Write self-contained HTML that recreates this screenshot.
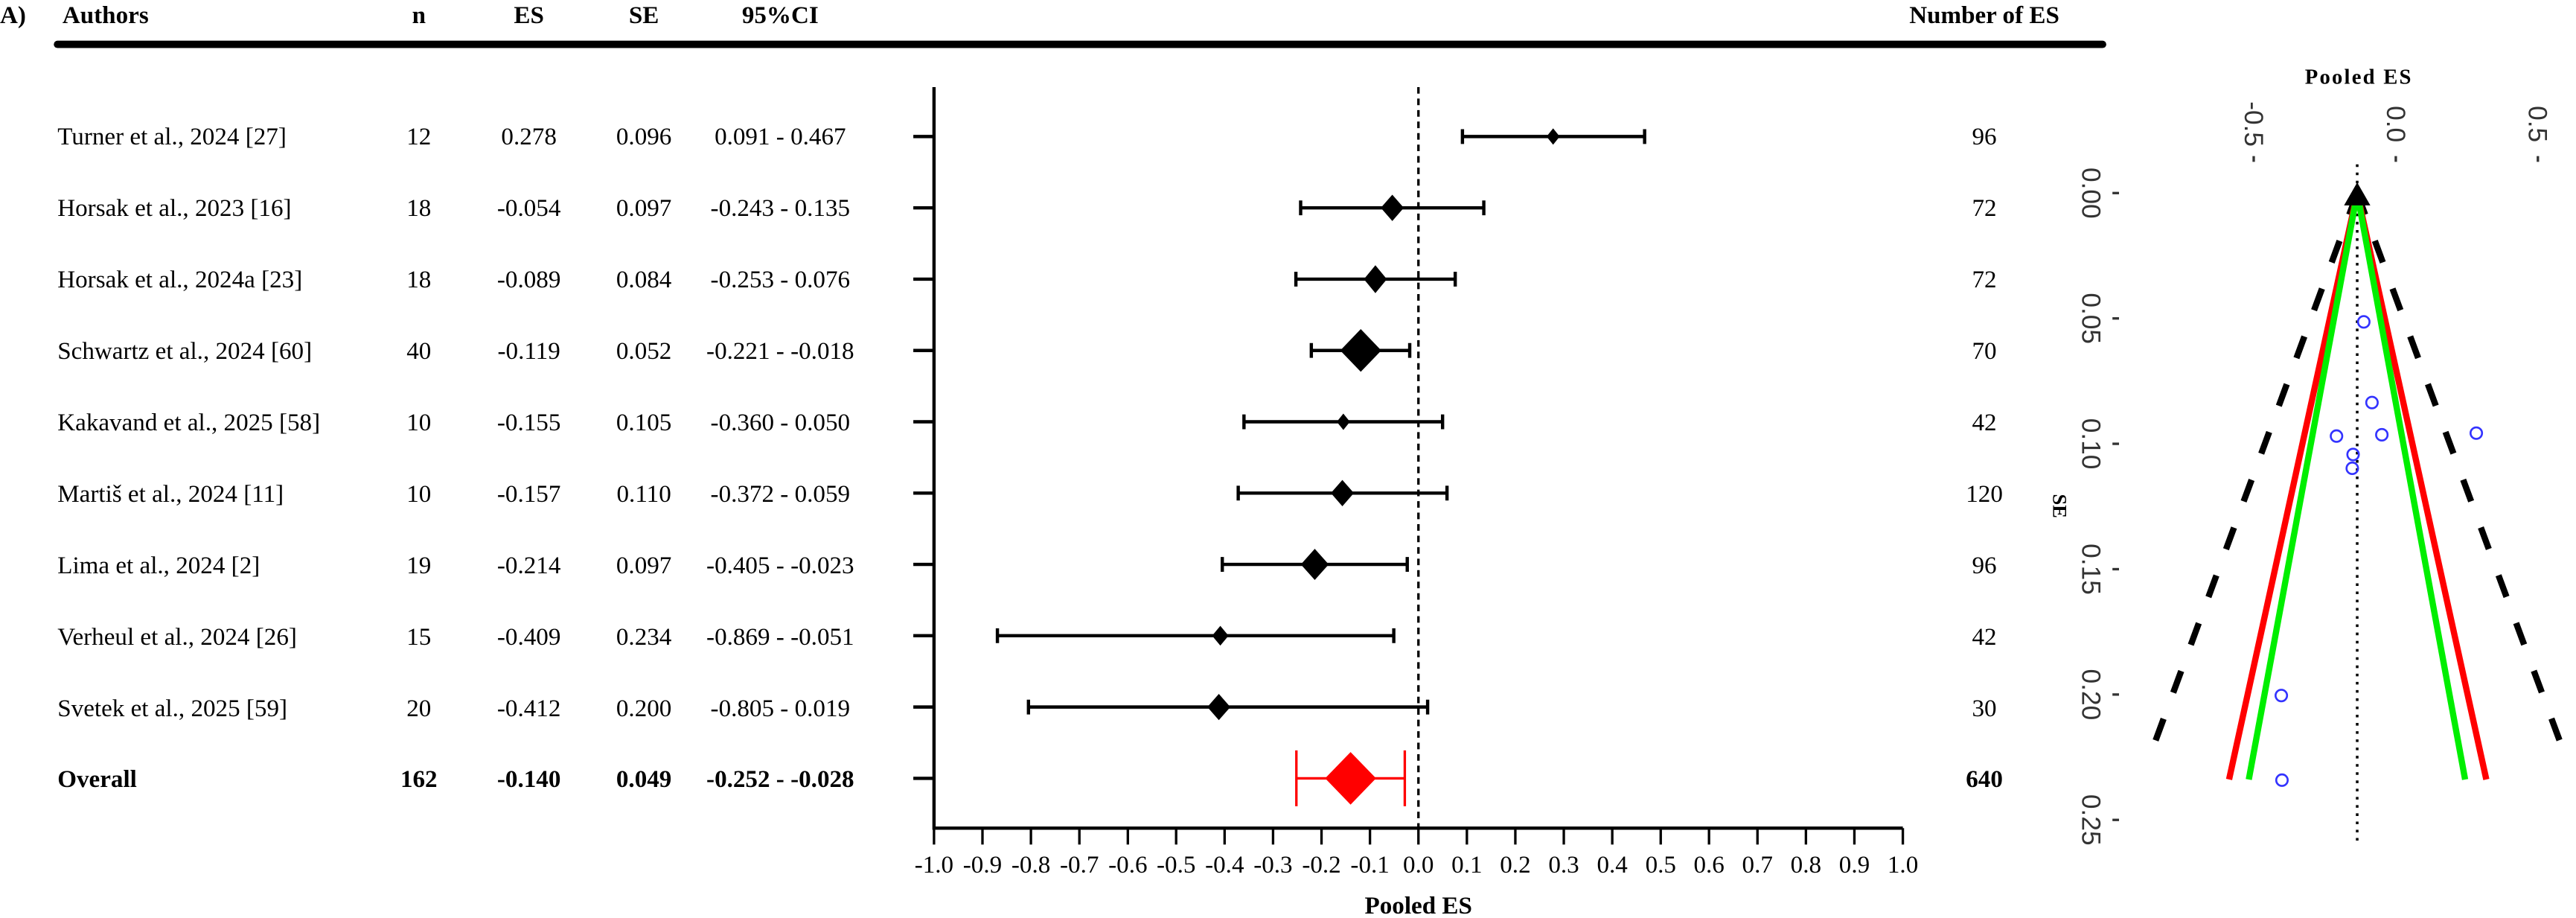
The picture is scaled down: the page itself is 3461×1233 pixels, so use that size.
<!DOCTYPE html>
<html><head><meta charset="utf-8"><style>
html,body{margin:0;padding:0;background:#fff;}
svg{display:block;}
.t{font-family:"Liberation Serif",serif;font-size:15px;fill:#000;}
.b{font-weight:bold;}
.s{font-family:"Liberation Sans",sans-serif;fill:#333;font-size:16px;}
</style></head><body>
<svg width="3461" height="1233" viewBox="0 0 1568.2 558.7" preserveAspectRatio="none" xmlns="http://www.w3.org/2000/svg">
<rect width="1568.2" height="558.7" fill="#fff"/>
<!-- headers -->
<text class="t b" x="0" y="14" font-size="16">A)</text>
<text class="t b" x="38" y="14">Authors</text>
<text class="t b" x="255" y="14" text-anchor="middle">n</text>
<text class="t b" x="322" y="14" text-anchor="middle">ES</text>
<text class="t b" x="392" y="14" text-anchor="middle">SE</text>
<text class="t b" x="475" y="14" text-anchor="middle">95%CI</text>
<text class="t b" x="1208" y="14" text-anchor="middle">Number of ES</text>
<line x1="35" y1="27" x2="1280" y2="27" stroke="#000" stroke-width="4.5" stroke-linecap="round"/>

<!-- rows text -->
<g class="t">
<text x="35" y="88">Turner et al., 2024 [27]</text>
<text x="35" y="131.5">Horsak et al., 2023 [16]</text>
<text x="35" y="175">Horsak et al., 2024a [23]</text>
<text x="35" y="218.5">Schwartz et al., 2024 [60]</text>
<text x="35" y="262">Kakavand et al., 2025 [58]</text>
<text x="35" y="305.5">Martiš et al., 2024 [11]</text>
<text x="35" y="349">Lima et al., 2024 [2]</text>
<text x="35" y="392.5">Verheul et al., 2024 [26]</text>
<text x="35" y="436">Svetek et al., 2025 [59]</text>
<text x="35" y="479" class="t b">Overall</text>
</g>
<g class="t" text-anchor="middle">
<text x="255" y="88">12</text><text x="322" y="88">0.278</text><text x="392" y="88">0.096</text><text x="475" y="88">0.091 - 0.467</text><text x="1208" y="88">96</text>
<text x="255" y="131.5">18</text><text x="322" y="131.5">-0.054</text><text x="392" y="131.5">0.097</text><text x="475" y="131.5">-0.243 - 0.135</text><text x="1208" y="131.5">72</text>
<text x="255" y="175">18</text><text x="322" y="175">-0.089</text><text x="392" y="175">0.084</text><text x="475" y="175">-0.253 - 0.076</text><text x="1208" y="175">72</text>
<text x="255" y="218.5">40</text><text x="322" y="218.5">-0.119</text><text x="392" y="218.5">0.052</text><text x="475" y="218.5">-0.221 - -0.018</text><text x="1208" y="218.5">70</text>
<text x="255" y="262">10</text><text x="322" y="262">-0.155</text><text x="392" y="262">0.105</text><text x="475" y="262">-0.360 - 0.050</text><text x="1208" y="262">42</text>
<text x="255" y="305.5">10</text><text x="322" y="305.5">-0.157</text><text x="392" y="305.5">0.110</text><text x="475" y="305.5">-0.372 - 0.059</text><text x="1208" y="305.5">120</text>
<text x="255" y="349">19</text><text x="322" y="349">-0.214</text><text x="392" y="349">0.097</text><text x="475" y="349">-0.405 - -0.023</text><text x="1208" y="349">96</text>
<text x="255" y="392.5">15</text><text x="322" y="392.5">-0.409</text><text x="392" y="392.5">0.234</text><text x="475" y="392.5">-0.869 - -0.051</text><text x="1208" y="392.5">42</text>
<text x="255" y="436">20</text><text x="322" y="436">-0.412</text><text x="392" y="436">0.200</text><text x="475" y="436">-0.805 - 0.019</text><text x="1208" y="436">30</text>
<g font-weight="bold"><text x="255" y="479">162</text><text x="322" y="479">-0.140</text><text x="392" y="479">0.049</text><text x="475" y="479">-0.252 - -0.028</text><text x="1208" y="479">640</text></g>
</g>

<!-- forest axes -->
<line x1="568.6" y1="53" x2="568.6" y2="505" stroke="#000" stroke-width="2"/>
<line x1="568.6" y1="504" x2="1158.4" y2="504" stroke="#000" stroke-width="2"/>
<line x1="863.5" y1="53" x2="863.5" y2="504" stroke="#000" stroke-width="1.5" stroke-dasharray="4,3"/>
<g stroke="#000" stroke-width="2">
<line x1="556" y1="83.1" x2="568.6" y2="83.1"/><line x1="556" y1="126.5" x2="568.6" y2="126.5"/>
<line x1="556" y1="169.9" x2="568.6" y2="169.9"/><line x1="556" y1="213.3" x2="568.6" y2="213.3"/>
<line x1="556" y1="256.7" x2="568.6" y2="256.7"/><line x1="556" y1="300.1" x2="568.6" y2="300.1"/>
<line x1="556" y1="343.5" x2="568.6" y2="343.5"/><line x1="556" y1="386.9" x2="568.6" y2="386.9"/>
<line x1="556" y1="430.3" x2="568.6" y2="430.3"/><line x1="556" y1="473.7" x2="568.6" y2="473.7"/>
</g>
<g id="ticks" stroke="#000" stroke-width="1.5">
<line x1="568.6" y1="504" x2="568.6" y2="514"/><line x1="598.1" y1="504" x2="598.1" y2="514"/><line x1="627.6" y1="504" x2="627.6" y2="514"/><line x1="657.1" y1="504" x2="657.1" y2="514"/><line x1="686.6" y1="504" x2="686.6" y2="514"/><line x1="716.0" y1="504" x2="716.0" y2="514"/><line x1="745.5" y1="504" x2="745.5" y2="514"/><line x1="775.0" y1="504" x2="775.0" y2="514"/><line x1="804.5" y1="504" x2="804.5" y2="514"/><line x1="834.0" y1="504" x2="834.0" y2="514"/><line x1="863.5" y1="504" x2="863.5" y2="514"/><line x1="893.0" y1="504" x2="893.0" y2="514"/><line x1="922.5" y1="504" x2="922.5" y2="514"/><line x1="952.0" y1="504" x2="952.0" y2="514"/><line x1="981.5" y1="504" x2="981.5" y2="514"/><line x1="1011.0" y1="504" x2="1011.0" y2="514"/><line x1="1040.4" y1="504" x2="1040.4" y2="514"/><line x1="1069.9" y1="504" x2="1069.9" y2="514"/><line x1="1099.4" y1="504" x2="1099.4" y2="514"/><line x1="1128.9" y1="504" x2="1128.9" y2="514"/><line x1="1158.4" y1="504" x2="1158.4" y2="514"/>
</g>
<g class="t" text-anchor="middle" font-size="14">
<text x="568.6" y="531">-1.0</text><text x="598.1" y="531">-0.9</text><text x="627.6" y="531">-0.8</text><text x="657.1" y="531">-0.7</text><text x="686.6" y="531">-0.6</text><text x="716.0" y="531">-0.5</text><text x="745.5" y="531">-0.4</text><text x="775.0" y="531">-0.3</text><text x="804.5" y="531">-0.2</text><text x="834.0" y="531">-0.1</text><text x="863.5" y="531">0.0</text><text x="893.0" y="531">0.1</text><text x="922.5" y="531">0.2</text><text x="952.0" y="531">0.3</text><text x="981.5" y="531">0.4</text><text x="1011.0" y="531">0.5</text><text x="1040.4" y="531">0.6</text><text x="1069.9" y="531">0.7</text><text x="1099.4" y="531">0.8</text><text x="1128.9" y="531">0.9</text><text x="1158.4" y="531">1.0</text>
</g>
<text class="t b" x="863.5" y="556" text-anchor="middle" font-size="14">Pooled ES</text>

<!-- error bars -->
<g stroke="#000" stroke-width="2" fill="none">
<path d="M890.3 83.1H1001.2M890.3 78.6V87.6M1001.2 78.6V87.6"/>
<path d="M791.8 126.5H903.3M791.8 122V131M903.3 122V131"/>
<path d="M788.9 169.9H885.9M788.9 165.4V174.4M885.9 165.4V174.4"/>
<path d="M798.3 213.3H858.2M798.3 208.8V217.8M858.2 208.8V217.8"/>
<path d="M757.3 256.7H878.2M757.3 252.2V261.2M878.2 252.2V261.2"/>
<path d="M753.8 300.1H880.9M753.8 295.6V304.6M880.9 295.6V304.6"/>
<path d="M744.1 343.5H856.7M744.1 339V348M856.7 339V348"/>
<path d="M607.2 386.9H848.5M607.2 382.4V391.4M848.5 382.4V391.4"/>
<path d="M626.1 430.3H869.1M626.1 425.8V434.8M869.1 425.8V434.8"/>
</g>
<g fill="#000">
<polygon points="945.5,78.1 949.5,83.1 945.5,88.1 941.5,83.1"/>
<polygon points="847.6,118.5 854.6,126.5 847.6,134.5 840.6,126.5"/>
<polygon points="837.3,161.4 844.3,169.9 837.3,178.4 830.3,169.9"/>
<polygon points="828.4,200.3 840.9,213.3 828.4,226.3 815.9,213.3"/>
<polygon points="817.8,251.7 821.8,256.7 817.8,261.7 813.8,256.7"/>
<polygon points="817.2,292.1 824.2,300.1 817.2,308.1 810.2,300.1"/>
<polygon points="800.4,334 808.9,343.5 800.4,353 791.9,343.5"/>
<polygon points="742.9,380.9 747.9,386.9 742.9,392.9 737.9,386.9"/>
<polygon points="742.0,422.3 749,430.3 742.0,438.3 735,430.3"/>
</g>
<g stroke="#f00" stroke-width="1.5" fill="none">
<path d="M789.2 473.7H855.2M789.2 456.7V490.7M855.2 456.7V490.7" />
</g>
<polygon points="822.2,457.7 837.7,473.7 822.2,489.7 806.7,473.7" fill="#f00"/>

<!-- funnel plot -->
<text x="1436" y="51" text-anchor="middle" font-family="Liberation Serif,serif" font-weight="bold" font-size="13" letter-spacing="1">Pooled ES</text>
<g class="s" text-anchor="middle">
<text transform="translate(1372,75.5) rotate(90)" y="5.5">-0.5</text>
<text transform="translate(1458.5,75.5) rotate(90)" y="5.5">0.0</text>
<text transform="translate(1545,75.5) rotate(90)" y="5.5">0.5</text>
<text transform="translate(1273,117.5) rotate(90)" y="5.5">0.00</text>
<text transform="translate(1273,193.8) rotate(90)" y="5.5">0.05</text>
<text transform="translate(1273,270.1) rotate(90)" y="5.5">0.10</text>
<text transform="translate(1273,346.4) rotate(90)" y="5.5">0.15</text>
<text transform="translate(1273,422.7) rotate(90)" y="5.5">0.20</text>
<text transform="translate(1273,499) rotate(90)" y="5.5">0.25</text>
</g>
<text transform="translate(1254,308) rotate(90)" text-anchor="middle" y="4" font-family="Liberation Serif,serif" font-weight="bold" font-size="12">SE</text>
<g stroke="#333" stroke-width="1.5">
<line x1="1372" y1="95" x2="1372" y2="98.5"/><line x1="1458.5" y1="95" x2="1458.5" y2="98.5"/><line x1="1545" y1="95" x2="1545" y2="98.5"/>
<line x1="1286" y1="117.5" x2="1290" y2="117.5"/><line x1="1286" y1="193.8" x2="1290" y2="193.8"/><line x1="1286" y1="270.1" x2="1290" y2="270.1"/><line x1="1286" y1="346.4" x2="1290" y2="346.4"/><line x1="1286" y1="422.7" x2="1290" y2="422.7"/><line x1="1286" y1="499" x2="1290" y2="499"/>
</g>
<line x1="1435" y1="100" x2="1435" y2="512" stroke="#000" stroke-width="1.6" stroke-dasharray="1.6,3.4"/>
<g fill="none" stroke-width="3.8">
<line x1="1435" y1="117.5" x2="1306.7" y2="465.8" stroke="#000" stroke-dasharray="14,17"/>
<line x1="1435" y1="117.5" x2="1563.5" y2="465" stroke="#000" stroke-dasharray="14,17"/>
<line x1="1435" y1="117.5" x2="1357" y2="474.4" stroke="#f00"/>
<line x1="1435" y1="117.5" x2="1513.6" y2="474.4" stroke="#f00"/>
<line x1="1435" y1="117.5" x2="1369" y2="474.4" stroke="#0e0"/>
<line x1="1435" y1="117.5" x2="1500.7" y2="474.4" stroke="#0e0"/>
</g>
<polygon points="1435,111 1427,125 1443,125" fill="#000"/>
<g fill="none" stroke="#33f" stroke-width="1.2">
<circle cx="1439" cy="195.9" r="3.5"/><circle cx="1444" cy="245" r="3.5"/><circle cx="1422.4" cy="265.4" r="3.5"/>
<circle cx="1450" cy="264.6" r="3.5"/><circle cx="1507.5" cy="263.6" r="3.5"/><circle cx="1432.5" cy="276.6" r="3.5"/>
<circle cx="1432" cy="285" r="3.5"/><circle cx="1388.8" cy="423.3" r="3.5"/><circle cx="1389.2" cy="474.8" r="3.5"/>
</g>
</svg>
</body></html>
